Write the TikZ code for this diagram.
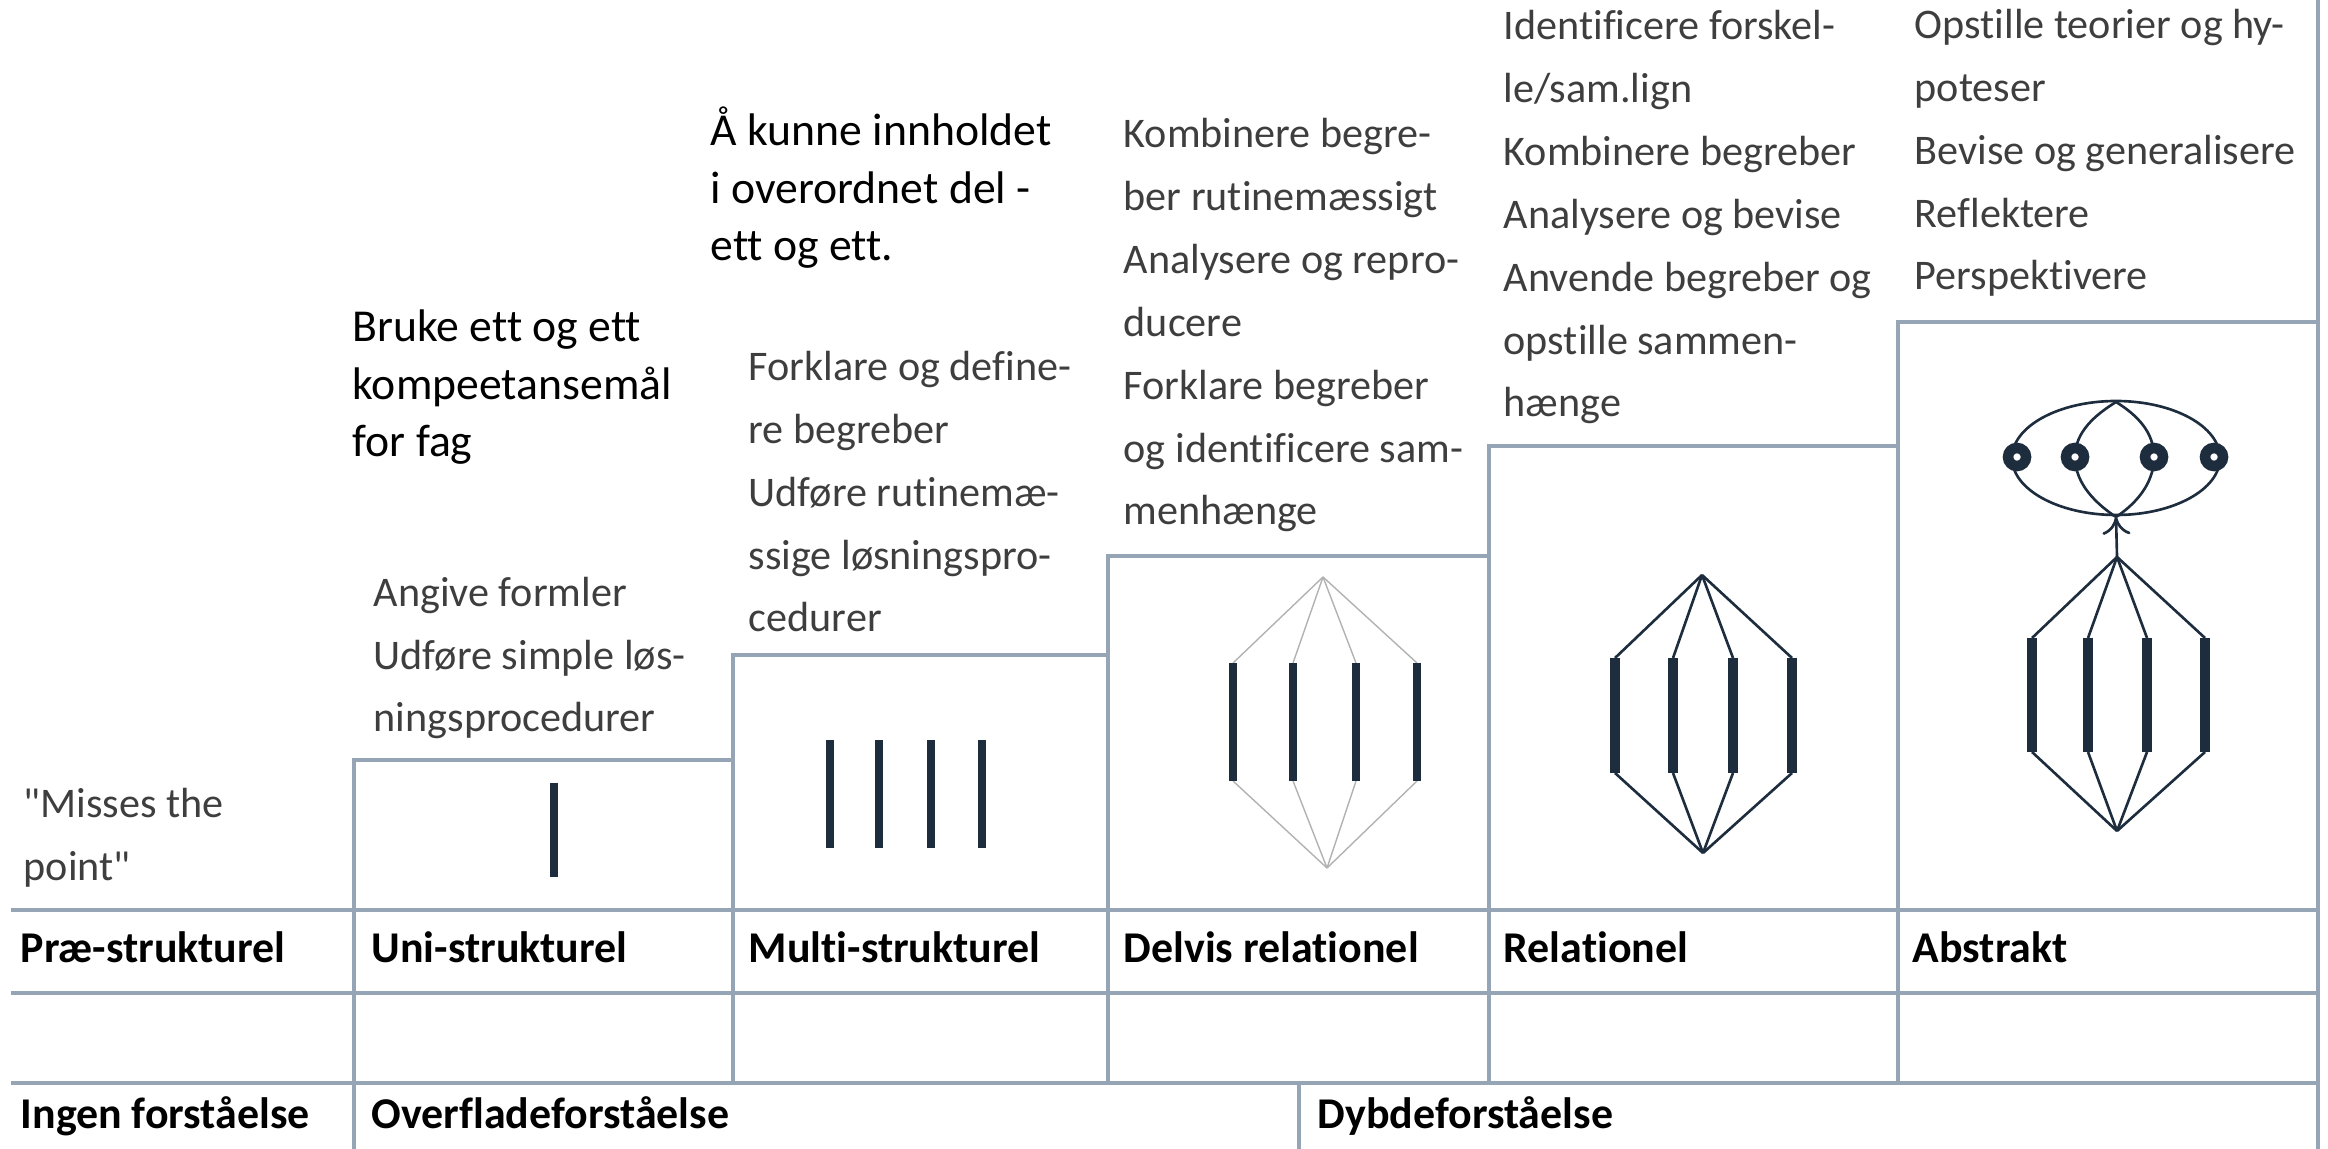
\documentclass[tikz,border=0pt]{standalone}
\usepackage{fontspec}
\setmainfont{Carlito}[Ligatures={TeX,NoCommon}]
\newfontfamily\plainquote{Carlito}[Ligatures=NoCommon]
\usetikzlibrary{arrows.meta}
\definecolor{rulecol}{RGB}{150,165,182}
\definecolor{navy}{RGB}{30,45,62}
\definecolor{txtgray}{RGB}{62,62,62}

\begin{document}
\begin{tikzpicture}[x=0.1mm,y=-0.1mm,
rule/.style = {draw=rulecol, line width=0.9pt},
desc/.style = {anchor=base west, inner sep=0pt, align=left, text=txtgray,
  font=\fontsize{12}{17.9}\selectfont},
note/.style = {anchor=base west, inner sep=0pt, align=left,
  font=\fontsize{13}{16.5}\selectfont},
stage/.style = {anchor=base west, inner sep=0pt, font=\bfseries\fontsize{12.5}{15}\selectfont},
stick/.style = {draw=navy, line width=2.4pt},
thick stick/.style = {draw=navy, line width=2.8pt},
link/.style = {draw=navy, line width=0.75pt},
faint/.style = {draw=gray!60, line width=0.4pt},
ring/.style = {draw=navy, fill=white, line width=3pt}]
\useasboundingbox (0,0) rectangle (2328,1149);

\draw[rule] (11,910) -- (2318,910);
\draw[rule] (11,993) -- (2318,993);
\draw[rule] (11,1083) -- (2318,1083);
\draw[rule] (354,1149) -- (354,760) -- (733,760);
\foreach \x/\y/\nx in {733/655/1108, 1108/556/1489, 1489/446/1898, 1898/322/2318}
  \draw[rule] (\x,1083) |- (\nx,\y);
\draw[rule] (2318,0) -- (2318,1149);
\draw[rule] (1299,1083) -- (1299,1149);

\node[note] (bruke) at (352,457) {Bruke ett og ett\\kompeetansemål\\for fag};
\node[note] (kunne) at (710,261) {Å kunne innholdet\\i overordnet del -\\ett og ett.};

\node[desc, font=\plainquote\fontsize{12}{17.9}\selectfont] (miss) at (23,880) {"Misses the\\point"};
\node[desc] (unitxt) at (373,732) {Angive formler\\Udføre simple løs-\\ningsprocedurer};
\node[desc] (multitxt) at (748,632) {Forklare og define-\\re begreber\\Udføre rutinemæ-\\ssige løsningspro-\\cedurer};
\node[desc] (deltxt) at (1123,525) {Kombinere begre-\\ber rutinemæssigt\\Analysere og repro-\\ducere\\Forklare begreber\\og identificere sam-\\menhænge};
\node[desc] (reltxt) at (1503,417) {Identificere forskel-\\le/sam.lign\\Kombinere begreber\\Analysere og bevise\\Anvende begreber og\\opstille sammen-\\hænge};
\node[desc] (abstxt) at (1914,290) {Opstille teorier og hy-\\poteser\\Bevise og generalisere\\Reflektere\\Perspektivere};

\node[stage] (pre) at (20,962) {Præ-strukturel};
\node[stage] (uni) at (371,962) {Uni-strukturel};
\node[stage] (multi) at (748,962) {Multi-strukturel};
\node[stage] (delvis) at (1123,962) {Delvis relationel};
\node[stage] (rel) at (1503,962) {Relationel};
\node[stage] (abs) at (1912,962) {Abstrakt};
\node[stage] (ingen) at (20,1128) {Ingen forståelse};
\node[stage] (overfl) at (371,1128) {Overfladeforståelse};
\node[stage] (dybde) at (1317,1128) {Dybdeforståelse};

\coordinate (u1t) at (554,783);
\coordinate (u1b) at (554,877);
\draw[stick] (u1t) -- (u1b);

\foreach \i/\x in {1/830, 2/879, 3/931, 4/982} {
  \coordinate (m\i t) at (\x,740);
  \coordinate (m\i b) at (\x,848);
  \draw[stick] (m\i t) -- (m\i b);
}

\coordinate (dtop) at (1323,577);
\coordinate (dbot) at (1327,868);
\foreach \i/\x in {1/1233, 2/1293, 3/1356, 4/1417} {
  \coordinate (d\i t) at (\x,663);
  \coordinate (d\i b) at (\x,781);
  \draw[faint] (dtop) -- (d\i t) (d\i b) -- (dbot);
  \draw[stick] (d\i t) -- (d\i b);
}

\coordinate (rtop) at (1702,575);
\coordinate (rbot) at (1703,853);
\foreach \i/\x in {1/1615, 2/1673, 3/1733, 4/1792} {
  \coordinate (r\i t) at (\x,658);
  \coordinate (r\i b) at (\x,773);
  \draw[link] (rtop) -- (r\i t) (r\i b) -- (rbot);
  \draw[thick stick] (r\i t) -- (r\i b);
}

\coordinate (atop) at (2117,557);
\coordinate (abot) at (2117,831);
\foreach \i/\x in {1/2032, 2/2088, 3/2147, 4/2205} {
  \coordinate (a\i t) at (\x,638);
  \coordinate (a\i b) at (\x,752);
  \draw[link] (atop) -- (a\i t) (a\i b) -- (abot);
  \draw[thick stick] (a\i t) -- (a\i b);
}
\coordinate (etop) at (2116,402);
\coordinate (ebot) at (2116,517);
\draw[link] (2116,458) ellipse [x radius=104, y radius=57];
\draw[link, -{To[length=5pt,width=8pt]}] (atop) -- (ebot);
\coordinate (o1) at (2017,457);
\coordinate (o2) at (2075,457);
\coordinate (o3) at (2154,457);
\coordinate (o4) at (2214,457);
\draw[link] (etop) .. controls (2095,415) and (2075,432) .. (o2)
  .. controls (2075,485) and (2098,505) .. (ebot);
\draw[link] (etop) .. controls (2137,415) and (2154,432) .. (o3)
  .. controls (2154,485) and (2134,505) .. (ebot);
\foreach \o in {o1,o2,o3,o4}
  \draw[ring] (\o) circle [radius=9];
\end{tikzpicture}
\end{document}
